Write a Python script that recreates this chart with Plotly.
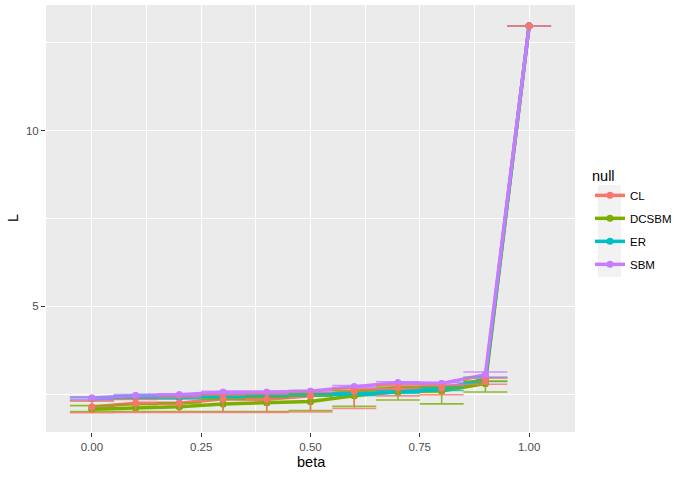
import plotly.graph_objects as go

beta = [0.0, 0.1, 0.2, 0.3, 0.4, 0.5, 0.6, 0.7, 0.8, 0.9, 1.0]

series_names = ["CL", "DCSBM", "ER", "SBM"]
colors = ["#F8766D", "#7CAE00", "#00BFC4", "#C77CFF"]
err_colors = ["rgba(248,118,109,0.8)", "rgba(124,174,0,0.8)",
              "rgba(0,191,196,0.8)", "rgba(199,124,255,0.8)"]

L_CL = [2.13, 2.24, 2.24, 2.37, 2.35, 2.45, 2.58, 2.68, 2.67, 2.88, 12.98]
lo_CL = [1.97, 1.98, 1.98, 1.98, 1.98, 1.99, 2.09, 2.45, 2.48, 2.78, 12.98]
hi_CL = [2.30, 2.35, 2.40, 2.47, 2.50, 2.55, 2.65, 2.75, 2.75, 2.95, 12.98]

L_DCSBM = [2.07, 2.11, 2.14, 2.22, 2.25, 2.29, 2.45, 2.57, 2.59, 2.80, 12.98]
lo_DCSBM = [2.00, 2.00, 2.00, 2.00, 2.00, 2.03, 2.15, 2.33, 2.22, 2.56, 12.98]
hi_DCSBM = [2.17, 2.20, 2.25, 2.35, 2.40, 2.45, 2.60, 2.70, 2.72, 2.87, 12.98]

L_ER = [2.37, 2.41, 2.40, 2.44, 2.46, 2.48, 2.50, 2.56, 2.64, 2.93, 12.98]
lo_ER = [2.33, 2.37, 2.36, 2.40, 2.42, 2.44, 2.46, 2.52, 2.60, 2.86, 12.98]
hi_ER = [2.41, 2.45, 2.44, 2.48, 2.50, 2.52, 2.54, 2.60, 2.68, 2.98, 12.98]

L_SBM = [2.39, 2.46, 2.48, 2.55, 2.55, 2.58, 2.71, 2.82, 2.80, 3.05, 12.98]
lo_SBM = [2.36, 2.43, 2.45, 2.52, 2.52, 2.55, 2.68, 2.79, 2.77, 2.97, 12.98]
hi_SBM = [2.42, 2.49, 2.51, 2.58, 2.58, 2.61, 2.74, 2.85, 2.83, 3.13, 12.98]

L_all = [L_CL, L_DCSBM, L_ER, L_SBM]
lo_all = [lo_CL, lo_DCSBM, lo_ER, lo_SBM]
hi_all = [hi_CL, hi_DCSBM, hi_ER, hi_SBM]

# drawing order of the point/error-bar layer (last = on top)
point_order = [2, 1, 3, 0]

FONT = "Liberation Sans, Arial, sans-serif"

PL, PR, PT, PB = 46, 575, 5, 432
PW, PH = PR - PL, PB - PT

fig = go.Figure()

for name, c, L in zip(series_names, colors, L_all):
    fig.add_trace(go.Scatter(
        x=beta, y=L, mode="lines+markers", name=name,
        line=dict(color=c, width=3.5),
        marker=dict(color=c, size=7),
        legendgroup=name,
    ))

for i in point_order:
    name, c, ec = series_names[i], colors[i], err_colors[i]
    L, lo, hi = L_all[i], lo_all[i], hi_all[i]
    fig.add_trace(go.Scatter(
        x=beta, y=L, mode="markers", name=name, showlegend=False,
        legendgroup=name,
        marker=dict(color=c, size=7),
        error_y=dict(type="data", symmetric=False,
                     array=[h - v for h, v in zip(hi, L)],
                     arrayminus=[v - l for v, l in zip(L, lo)],
                     color=ec, thickness=1.6, width=22),
    ))

# legend key background (ggplot style)
fig.add_shape(type="rect", xref="paper", yref="paper",
              x0=(598 - PL) / PW, x1=(621 - PL) / PW,
              y0=(PB - 277) / PH, y1=(PB - 185) / PH,
              fillcolor="#F2F2F2", line=dict(width=0), layer="below")

# axis titles
fig.add_annotation(text="beta", xref="paper", yref="paper",
                   x=(311 - PL) / PW, y=(PB - 462) / PH,
                   xanchor="center", yanchor="middle", showarrow=False,
                   font=dict(size=14.5, color="#000000", family=FONT))
fig.add_annotation(text="L", xref="paper", yref="paper",
                   x=(13 - PL) / PW, y=(PB - 218) / PH,
                   xanchor="center", yanchor="middle", showarrow=False,
                   textangle=-90,
                   font=dict(size=14.5, color="#000000", family=FONT))

fig.update_layout(
    width=685, height=478,
    margin=dict(l=PL, r=685 - PR, t=PT, b=478 - PB, autoexpand=False),
    paper_bgcolor="white",
    plot_bgcolor="#EBEBEB",
    font=dict(family=FONT, size=12, color="#000000"),
    legend=dict(
        title=dict(text="null", font=dict(size=14.5, color="#000000")),
        x=(590 - PL) / PW, xanchor="left",
        y=(PB - 162) / PH, yanchor="top",
        bgcolor="rgba(0,0,0,0)",
        font=dict(size=11.5, color="#000000"),
        itemwidth=30,
        traceorder="grouped",
        tracegroupgap=4,
    ),
    xaxis=dict(
        range=[-0.105, 1.105],
        tickmode="linear", tick0=0, dtick=0.25, tickformat=".2f",
        showgrid=True, gridcolor="white", gridwidth=1.1,
        minor=dict(dtick=0.125, tick0=0, showgrid=True, gridcolor="white", gridwidth=0.5),
        zeroline=False, automargin=False,
        ticks="outside", ticklen=4, tickcolor="#333333", tickwidth=1,
        tickfont=dict(size=11.5, color="#4D4D4D"),
        showline=False,
    ),
    yaxis=dict(
        range=[1.42, 13.58],
        tickmode="linear", tick0=0, dtick=5,
        showgrid=True, gridcolor="white", gridwidth=1.1,
        minor=dict(dtick=2.5, tick0=0, showgrid=True, gridcolor="white", gridwidth=0.5),
        zeroline=False, automargin=False,
        ticks="outside", ticklen=4, tickcolor="#333333", tickwidth=1,
        tickfont=dict(size=11.5, color="#4D4D4D"),
        showline=False,
    ),
)

fig.write_html("out.html", config={"displayModeBar": False},
               post_script="document.body.style.margin='0px';")
